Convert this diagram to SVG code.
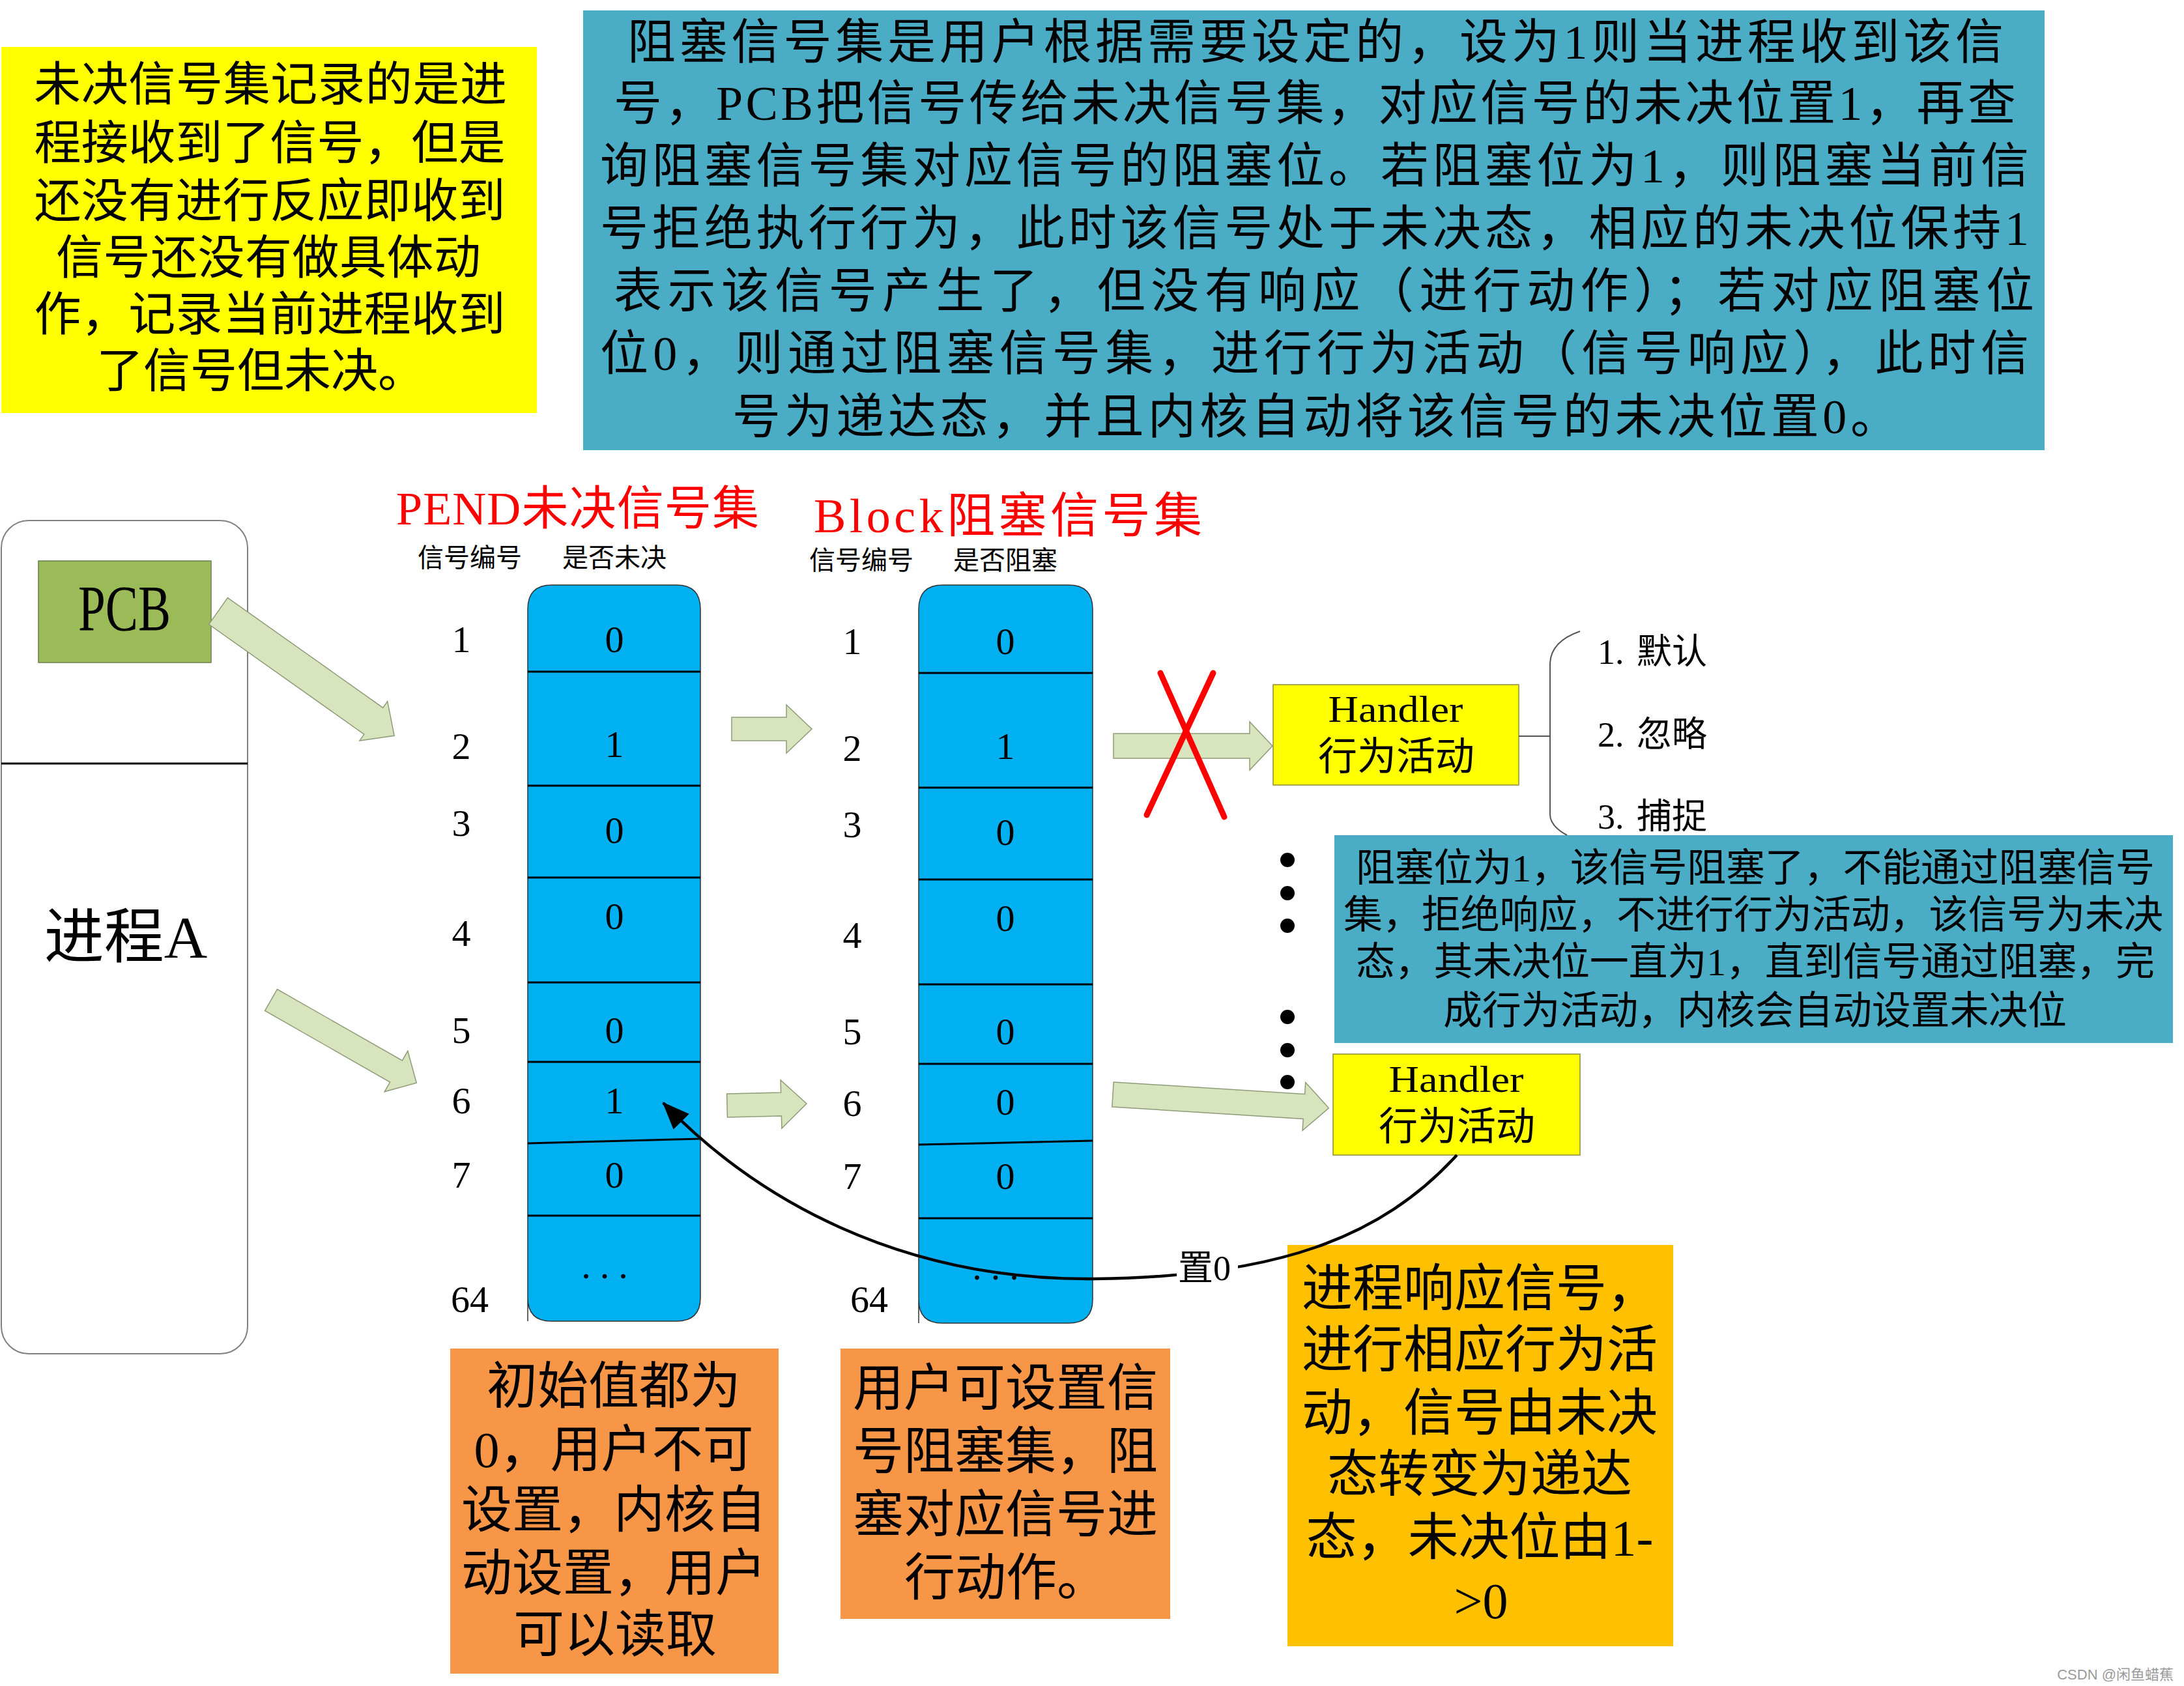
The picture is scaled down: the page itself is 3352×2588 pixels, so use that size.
<svg xmlns="http://www.w3.org/2000/svg" width="3352" height="2588" viewBox="0 0 3352 2588">
<style>
text { font-family: 'Liberation Serif', 'Noto Sans CJK SC', serif; fill: #000; }
.mid { text-anchor: middle; }
.red { fill: #FF0000; }
.blockarrow { fill: #D7E4BD; stroke: #8E9C78; stroke-width: 1.5; }
.col { fill: #00B0F0; stroke: #333333; stroke-width: 1.5; }
.div { stroke: #000; stroke-width: 3; }
.num { font-size: 58px; text-anchor: middle; }
.hdl { fill: #FFFF00; stroke: #8C8C3C; stroke-width: 1.5; }
.dot { fill: #000; }
</style>
<defs>
<marker id="ah" viewBox="0 0 42 34" refX="40" refY="17" markerWidth="42" markerHeight="34" markerUnits="userSpaceOnUse" orient="auto">
<path d="M0,0 L42,17 L0,34 z" fill="#000"/>
</marker>
</defs>
<rect width="3352" height="2588" fill="#FFFFFF"/>

<g id="note-pending">
<rect x="2" y="72" width="822" height="562" fill="#FFFF00"/>
<g font-size="72">
<text class="mid" x="415" y="154" textLength="726">未决信号集记录的是进</text>
<text class="mid" x="414" y="244" textLength="723">程接收到了信号，但是</text>
<text class="mid" x="414" y="333" textLength="723">还没有进行反应即收到</text>
<text class="mid" x="412" y="420" textLength="652">信号还没有做具体动</text>
<text class="mid" x="414" y="507" textLength="723">作，记录当前进程收到</text>
<text class="mid" x="400" y="594">了信号但未决。</text>
</g>
</g>

<g id="note-block">
<rect x="895" y="16" width="2243" height="675" fill="#4BACC6"/>
<g font-size="74">
<text x="963" y="90" textLength="2112">阻塞信号集是用户根据需要设定的，设为1则当进程收到该信</text>
<text x="942" y="184" textLength="2152">号，PCB把信号传给未决信号集，对应信号的未决位置1，再查</text>
<text x="921" y="280" textLength="2193">询阻塞信号集对应信号的阻塞位。若阻塞位为1，则阻塞当前信</text>
<text x="921" y="376" textLength="2193">号拒绝执行行为，此时该信号处于未决态，相应的未决位保持1</text>
<text x="942" y="472" textLength="2180">表示该信号产生了，但没有响应（进行动作）；若对应阻塞位</text>
<text x="921" y="568" textLength="2193">位0，则通过阻塞信号集，进行行为活动（信号响应），此时信</text>
<text x="1124" y="665" textLength="1790">号为递达态，并且内核自动将该信号的未决位置0。</text>
</g>
</g>

<g id="process-a">
<rect x="2" y="799" width="378" height="1279" rx="42" fill="#FFFFFF" stroke="#808080" stroke-width="2"/>
<line x1="2" y1="1172" x2="380" y2="1172" stroke="#000" stroke-width="3"/>
<text class="mid" x="193" y="1470" font-size="92">进程A</text>
</g>

<g id="pcb">
<rect x="59" y="861" width="265" height="156" fill="#9BBB59" stroke="#6E7F4A" stroke-width="1.5"/>
<text class="mid" x="191" y="967" font-size="100" textLength="142" lengthAdjust="spacingAndGlyphs">PCB</text>
</g>

<g id="pend-set">
<text class="red" x="608" y="805" font-size="72" textLength="557">PEND未决信号集</text>
<text class="mid" x="721" y="870" font-size="40">信号编号</text>
<text class="mid" x="943" y="870" font-size="40">是否未决</text>
<path class="col" d="M810,2028 L810,935 Q810,898 847,898 L1038,898 Q1075,898 1075,935 L1075,1992 Q1075,2028 1038,2028 L846,2028 Q810,2028 810,1992 Z"/>
<line class="div" x1="810" y1="1031" x2="1075" y2="1031"/>
<line class="div" x1="810" y1="1206" x2="1075" y2="1206"/>
<line class="div" x1="810" y1="1347" x2="1075" y2="1347"/>
<line class="div" x1="810" y1="1508" x2="1075" y2="1508"/>
<line class="div" x1="810" y1="1630" x2="1075" y2="1630"/>
<line class="div" x1="810" y1="1755" x2="1075" y2="1748"/>
<line class="div" x1="810" y1="1866" x2="1075" y2="1866"/>
<text class="num" x="943" y="1001">0</text>
<text class="num" x="943" y="1162">1</text>
<text class="num" x="943" y="1294">0</text>
<text class="num" x="943" y="1426">0</text>
<text class="num" x="943" y="1601">0</text>
<text class="num" x="943" y="1709">1</text>
<text class="num" x="943" y="1823">0</text>
<text class="num" x="935" y="1962" letter-spacing="14">...</text>
<text class="num" x="708" y="1001">1</text>
<text class="num" x="708" y="1165">2</text>
<text class="num" x="708" y="1283">3</text>
<text class="num" x="708" y="1452">4</text>
<text class="num" x="708" y="1601">5</text>
<text class="num" x="708" y="1709">6</text>
<text class="num" x="708" y="1823">7</text>
<text class="num" x="721" y="2014">64</text>
</g>

<g id="block-set">
<text class="red" x="1249" y="817" font-size="74" textLength="596">Block阻塞信号集</text>
<text class="mid" x="1322" y="874" font-size="40">信号编号</text>
<text class="mid" x="1543" y="874" font-size="40">是否阻塞</text>
<path class="col" d="M1410,2031 L1410,935 Q1410,898 1447,898 L1640,898 Q1677,898 1677,935 L1677,1995 Q1677,2031 1640,2031 L1446,2031 Q1410,2031 1410,1995 Z"/>
<line class="div" x1="1410" y1="1033" x2="1677" y2="1033"/>
<line class="div" x1="1410" y1="1209" x2="1677" y2="1209"/>
<line class="div" x1="1410" y1="1350" x2="1677" y2="1350"/>
<line class="div" x1="1410" y1="1511" x2="1677" y2="1511"/>
<line class="div" x1="1410" y1="1633" x2="1677" y2="1633"/>
<line class="div" x1="1410" y1="1757" x2="1677" y2="1751"/>
<line class="div" x1="1410" y1="1870" x2="1677" y2="1870"/>
<text class="num" x="1543" y="1004">0</text>
<text class="num" x="1543" y="1165">1</text>
<text class="num" x="1543" y="1297">0</text>
<text class="num" x="1543" y="1429">0</text>
<text class="num" x="1543" y="1603">0</text>
<text class="num" x="1543" y="1711">0</text>
<text class="num" x="1543" y="1825">0</text>
<text class="num" x="1535" y="1964" letter-spacing="14">...</text>
<text class="num" x="1308" y="1004">1</text>
<text class="num" x="1308" y="1168">2</text>
<text class="num" x="1308" y="1285">3</text>
<text class="num" x="1308" y="1455">4</text>
<text class="num" x="1308" y="1603">5</text>
<text class="num" x="1308" y="1713">6</text>
<text class="num" x="1308" y="1825">7</text>
<text class="num" x="1334" y="2014">64</text>
</g>

<g id="handler-1">
<rect class="hdl" x="1954" y="1051" width="377" height="154"/>
<text class="mid" x="2142" y="1108" font-size="56" textLength="207" lengthAdjust="spacingAndGlyphs">Handler</text>
<text class="mid" x="2143" y="1182" font-size="60">行为活动</text>
</g>

<g id="handler-options">
<text x="2452" y="1019" font-size="54">1.<tspan x="2512">默认</tspan></text>
<text x="2452" y="1146" font-size="54">2.<tspan x="2512">忽略</tspan></text>
<text x="2452" y="1272" font-size="54">3.<tspan x="2512">捕捉</tspan></text>
</g>

<g id="handler-2">
<rect class="hdl" x="2046" y="1618" width="379" height="155"/>
<text class="mid" x="2235" y="1676" font-size="56" textLength="207" lengthAdjust="spacingAndGlyphs">Handler</text>
<text class="mid" x="2236" y="1750" font-size="60">行为活动</text>
</g>

<g id="note-blocked">
<rect x="2048" y="1282" width="1287" height="319" fill="#4BACC6"/>
<g font-size="60">
<text x="2081" y="1353" textLength="1226">阻塞位为1，该信号阻塞了，不能通过阻塞信号</text>
<text x="2062" y="1425" textLength="1258">集，拒绝响应，不进行行为活动，该信号为未决</text>
<text x="2081" y="1497" textLength="1226">态，其未决位一直为1，直到信号通过阻塞，完</text>
<text x="2215" y="1572" textLength="957">成行为活动，内核会自动设置未决位</text>
</g>
</g>

<g id="note-initial">
<rect x="691" y="2070" width="504" height="499" fill="#F79646"/>
<g font-size="78">
<text class="mid" x="942" y="2155">初始值都为</text>
<text class="mid" x="942" y="2252">0，用户不可</text>
<text class="mid" x="942" y="2345">设置，内核自</text>
<text class="mid" x="942" y="2442">动设置，用户</text>
<text class="mid" x="944" y="2536">可以读取</text>
</g>
</g>

<g id="note-user">
<rect x="1290" y="2070" width="506" height="415" fill="#F79646"/>
<g font-size="78">
<text class="mid" x="1543" y="2158">用户可设置信</text>
<text class="mid" x="1543" y="2255">号阻塞集，阻</text>
<text class="mid" x="1543" y="2352">塞对应信号进</text>
<text class="mid" x="1544" y="2449">行动作。</text>
</g>
</g>

<g id="note-response">
<rect x="1976" y="1911" width="592" height="616" fill="#FFC000"/>
<g font-size="78">
<text class="mid" x="2271" y="2005">进程响应信号，</text>
<text class="mid" x="2271" y="2099">进行相应行为活</text>
<text class="mid" x="2271" y="2196">动，信号由未决</text>
<text class="mid" x="2271" y="2290">态转变为递达</text>
<text class="mid" x="2271" y="2387">态，未决位由1-</text>
<text class="mid" x="2273" y="2484">&gt;0</text>
</g>
</g>

<g id="connectors">
<polygon class="blockarrow" points="0,-25 292,-25 292,-37 331,0 292,37 292,25 0,25" transform="translate(335,938) rotate(35.3)"/>
<polygon class="blockarrow" points="0,-19 221,-19 221,-36 257,0 221,36 221,19 0,19" transform="translate(416,1535) rotate(29.7)"/>
<polygon class="blockarrow" points="0,-18 84,-18 84,-37 123,0 84,37 84,18 0,18" transform="translate(1123,1119)"/>
<polygon class="blockarrow" points="0,-18 83,-18 83,-37 122,0 83,37 83,18 0,18" transform="translate(1116,1697) rotate(-1.4)"/>
<polygon class="blockarrow" points="0,-19 209,-19 209,-37 244,0 209,37 209,19 0,19" transform="translate(1709,1145)"/>
<polygon class="blockarrow" points="0,-19 294,-19 294,-37 332,0 294,37 294,19 0,19" transform="translate(1708,1680) rotate(3.6)"/>
<line x1="1781" y1="1033" x2="1879" y2="1254" stroke="#FF0000" stroke-width="9" stroke-linecap="round"/>
<line x1="1862" y1="1033" x2="1760" y2="1251" stroke="#FF0000" stroke-width="9" stroke-linecap="round"/>
<path d="M2425,969 Q2379,985 2379,1020 L2379,1250 Q2379,1268 2405,1282" fill="none" stroke="#555555" stroke-width="2"/>
<line x1="2331" y1="1130" x2="2379" y2="1130" stroke="#555555" stroke-width="2"/>
<path d="M2236,1773 C2120,1900 1960,1960 1680,1963 C1380,1966 1160,1840 1018,1693" fill="none" stroke="#000" stroke-width="4.5" marker-end="url(#ah)"/>
<rect x="1806" y="1912" width="94" height="60" fill="#FFFFFF"/>
<text x="1808" y="1965" font-size="54">置0</text>
<circle class="dot" cx="1976" cy="1320" r="11"/>
<circle class="dot" cx="1976" cy="1371" r="11"/>
<circle class="dot" cx="1976" cy="1421" r="11"/>
<circle class="dot" cx="1976" cy="1561" r="11"/>
<circle class="dot" cx="1976" cy="1612" r="11"/>
<circle class="dot" cx="1976" cy="1661" r="11"/>
</g>

<text x="3336" y="2578" font-size="22" fill="#9A9A9A" style="fill:#9A9A9A;text-anchor:end;font-family:'Liberation Sans','Noto Sans CJK SC',sans-serif">CSDN @闲鱼蜡蕉</text>
</svg>
